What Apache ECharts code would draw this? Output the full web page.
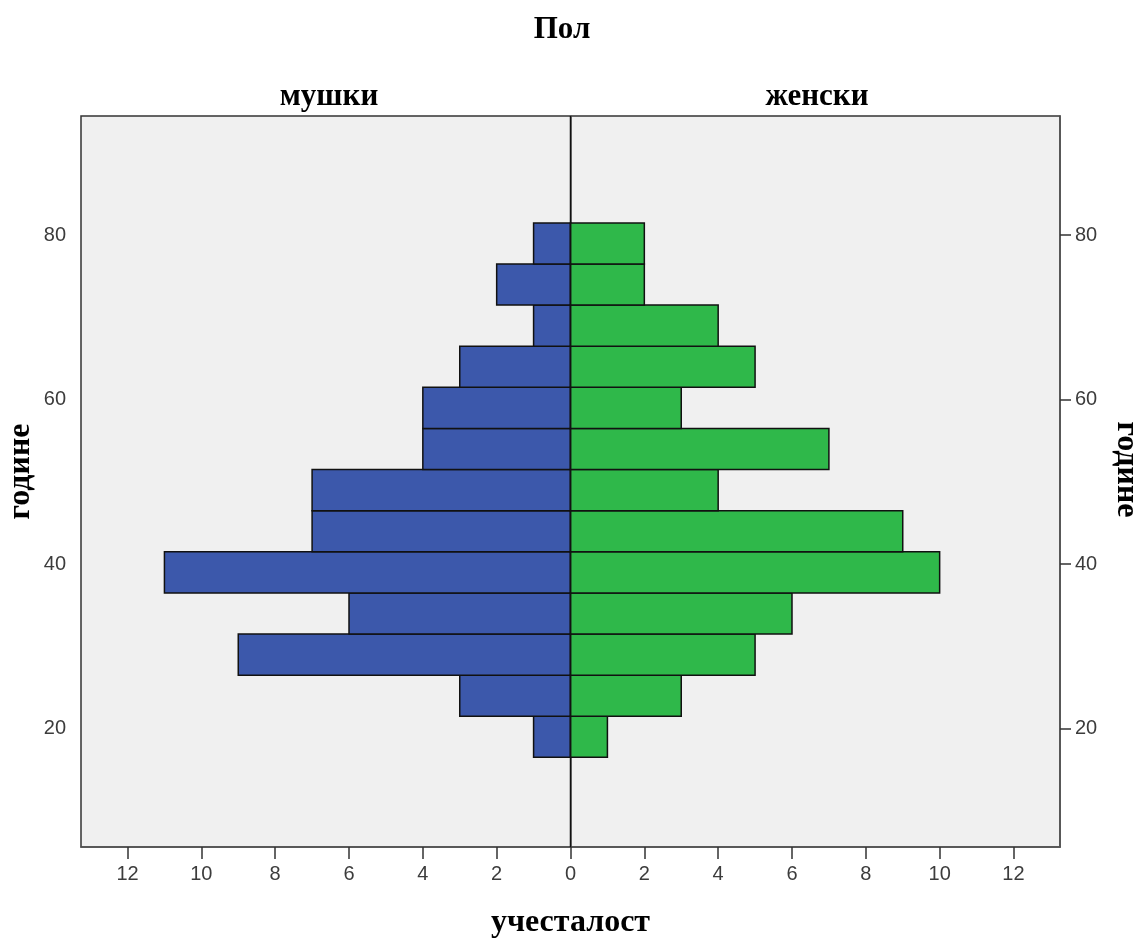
<!DOCTYPE html>
<html>
<head>
<meta charset="utf-8">
<script src="https://cdn.jsdelivr.net/npm/echarts@6/dist/echarts.min.js"></script>
<style>html,body{margin:0;padding:0;background:#fff;}#c{width:1139px;height:939px;}</style>
</head>
<body>
<div id="c"></div>
<script>
// Age bins (lower edge, years), youngest first; each bin is 5 years wide
const binLower = [16.5, 21.5, 26.5, 31.5, 36.5, 41.5, 46.5, 51.5, 56.5, 61.5, 66.5, 71.5, 76.5];
const binWidth = 5;
// Frequencies
const maleCounts   = [1, 3, 9, 6, 11, 7, 7, 4, 4, 3, 1, 2, 1];
const femaleCounts = [1, 3, 5, 6, 10, 9, 4, 7, 3, 5, 4, 2, 2];
// Tick labels
const xTicks = [-12, -10, -8, -6, -4, -2, 0, 2, 4, 6, 8, 10, 12];
const yTicks = [20, 40, 60, 80];

const maleData = binLower.map((b, i) => [b, maleCounts[i]]);
const femaleData = binLower.map((b, i) => [b, femaleCounts[i]]);

const chart = echarts.init(document.getElementById('c'));
const serif = '"Liberation Serif", "Times New Roman", serif';
const sans = '"Liberation Sans", Arial, sans-serif';

function makeRender(side) {
  return function (params, api) {
    const lo = api.value(0), v = api.value(1);
    const p1 = api.coord([side * v, lo + binWidth]);
    const p0 = api.coord([0, lo]);
    const x = Math.min(p0[0], p1[0]);
    const w = Math.abs(p1[0] - p0[0]);
    const y = p1[1];
    const h = p0[1] - p1[1];
    return {
      type: 'rect',
      shape: { x: x, y: y, width: w, height: h },
      style: { fill: side < 0 ? '#3c58ab' : '#2fb84a', stroke: '#111', lineWidth: 1.5 }
    };
  };
}

const yAxisCommon = {
  type: 'value', min: 5.6, max: 94.5,
  axisLine: { show: true, lineStyle: { color: '#555', width: 1.5 } },
  axisTick: { show: true, length: 11, customValues: yTicks, lineStyle: { color: '#333', width: 1.5 } },
  axisLabel: { customValues: yTicks, color: '#3c3c3c', fontFamily: sans, fontSize: 20, margin: 15 },
  splitLine: { show: false }
};

chart.setOption({
  animation: false,
  backgroundColor: '#fff',
  grid: { left: 81, right: 79, top: 116, bottom: 92, outerBoundsMode: 'none', show: true, backgroundColor: '#f0f0f0', borderColor: '#333', borderWidth: 1.5 },
  title: [
    { text: 'Пол', left: 557, top: 9, textAlign: 'center', textStyle: { fontFamily: serif, fontWeight: 'bold', fontSize: 31, color: '#000' } },
    { text: 'мушки', left: 324, top: 76, textAlign: 'center', textStyle: { fontFamily: serif, fontWeight: 'bold', fontSize: 31, color: '#000' } },
    { text: 'женски', left: 812, top: 76, textAlign: 'center', textStyle: { fontFamily: serif, fontWeight: 'bold', fontSize: 31, color: '#000' } }
  ],
  xAxis: {
    type: 'value', min: -13.26, max: 13.26,
    name: 'учесталост', nameLocation: 'middle', nameGap: 60,
    nameTextStyle: { fontFamily: serif, fontWeight: 'bold', fontSize: 32, color: '#000' },
    axisLine: { show: true, onZero: false, lineStyle: { color: '#555', width: 1.5 } },
    axisTick: { show: true, length: 12, customValues: xTicks, lineStyle: { color: '#333', width: 1.5 } },
    axisLabel: { customValues: xTicks, color: '#3c3c3c', fontFamily: sans, fontSize: 20, margin: 17, formatter: v => String(Math.abs(v)) },
    splitLine: { show: false }
  },
  yAxis: [
    Object.assign({}, yAxisCommon, {
      position: 'left', name: 'године', nameLocation: 'middle', nameGap: 44, nameRotate: 90, nameMoveOverlap: false,
      nameTextStyle: { fontFamily: serif, fontWeight: 'bold', fontSize: 32, color: '#000', padding: [0, 0, 0, 20] }
    }),
    Object.assign({}, yAxisCommon, {
      position: 'right', name: 'године', nameLocation: 'middle', nameGap: 50, nameRotate: -90,
      nameTextStyle: { fontFamily: serif, fontWeight: 'bold', fontSize: 32, color: '#000', padding: [0, 24, 0, 0] }
    })
  ],
  series: [
    { type: 'custom', name: 'мушки', renderItem: makeRender(-1), data: maleData, encode: { x: 1, y: 0 }, z: 3 },
    { type: 'custom', name: 'женски', renderItem: makeRender(1), data: femaleData, encode: { x: 1, y: 0 }, z: 3 },
    { type: 'line', data: [[0, 5.6], [0, 94.5]], symbol: 'none', lineStyle: { color: '#111', width: 1.5 }, z: 5, silent: true }
  ]
});
</script>
</body>
</html>
